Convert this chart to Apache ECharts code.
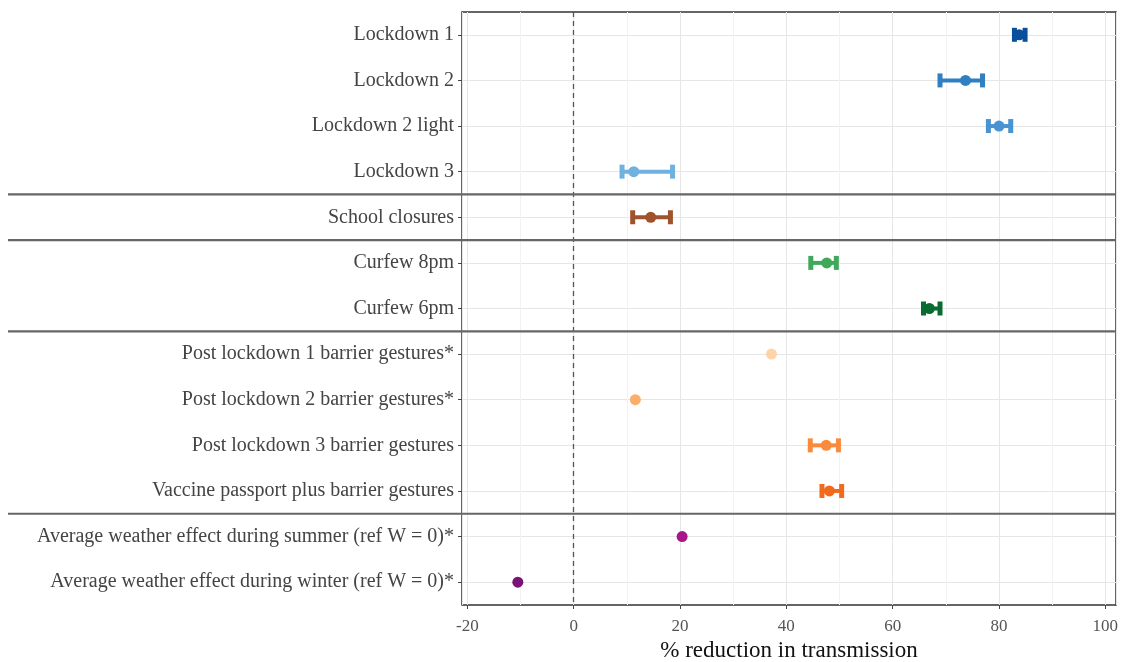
<!DOCTYPE html>
<html>
<head>
<meta charset="utf-8">
<script src="https://cdn.jsdelivr.net/npm/echarts@6/dist/echarts.min.js"></script>
<style>
  html, body { margin: 0; padding: 0; background: #fff; }
  #chart { width: 1123px; height: 662px; }
</style>
</head>
<body>
<div id="chart"></div>
<script>
// categories, top to bottom
const categories = [
  "Lockdown 1",
  "Lockdown 2",
  "Lockdown 2 light",
  "Lockdown 3",
  "School closures",
  "Curfew 8pm",
  "Curfew 6pm",
  "Post lockdown 1 barrier gestures*",
  "Post lockdown 2 barrier gestures*",
  "Post lockdown 3 barrier gestures",
  "Vaccine passport plus barrier gestures",
  "Average weather effect during summer (ref W = 0)*",
  "Average weather effect during winter (ref W = 0)*"
];
// point estimates (% reduction)
const estimates = [83.8, 73.7, 80.0, 11.3, 14.5, 47.6, 66.9, 37.2, 11.6, 47.5, 48.1, 20.4, -10.5];
// 95% interval, null when none is drawn
const lower = [82.9, 68.9, 78.0, 9.1, 11.1, 44.6, 65.8, null, null, 44.5, 46.7, null, null];
const upper = [84.9, 76.9, 82.2, 18.6, 18.2, 49.4, 68.9, null, null, 49.8, 50.4, null, null];
const colors = [
  "#0a4f9c", "#2f7fc1", "#4894d2", "#6fb2df",
  "#a0522d",
  "#3fa85a", "#0a6b32",
  "#fdd3a8", "#fdae6b", "#fb8a3c", "#f26b1d",
  "#a8168a", "#7a1278"
];
// a separator line is drawn below each of these
const groupEnds = ["Lockdown 3", "School closures", "Curfew 6pm", "Vaccine passport plus barrier gestures"];

const serif = "Liberation Serif";
const chart = echarts.init(document.getElementById("chart"));

const barData = [];
categories.forEach((c, i) => {
  if (lower[i] != null) {
    barData.push({ value: [lower[i], upper[i], c], itemStyle: { color: colors[i] } });
  }
});

function renderBar(params, api) {
  const lo = api.coord([api.value(0), api.value(2)]);
  const hi = api.coord([api.value(1), api.value(2)]);
  const color = api.visual("color");
  const h = 7;
  return {
    type: "group",
    children: [
      { type: "line", shape: { x1: lo[0], y1: lo[1], x2: hi[0], y2: hi[1] }, style: { stroke: color, lineWidth: 4 } },
      { type: "line", shape: { x1: lo[0], y1: lo[1] - h, x2: lo[0], y2: lo[1] + h }, style: { stroke: color, lineWidth: 5 } },
      { type: "line", shape: { x1: hi[0], y1: hi[1] - h, x2: hi[0], y2: hi[1] + h }, style: { stroke: color, lineWidth: 5 } }
    ]
  };
}

const option = {
  animation: false,
  grid: {
    left: 462, right: 7, top: 12, bottom: 57,
    outerBoundsMode: "none",
    containLabel: false,
    show: true, borderColor: "#333", borderWidth: 1.5, backgroundColor: "transparent"
  },
  xAxis: {
    type: "value",
    min: -21,
    max: 102,
    splitNumber: 6,
    name: "% reduction in transmission",
    nameLocation: "middle",
    nameGap: 31,
    nameTextStyle: { fontFamily: serif, fontSize: 23, color: "#111" },
    axisLine: { show: false, onZero: false },
    axisTick: { show: true, length: 4, lineStyle: { color: "#444" } },
    axisLabel: { fontFamily: serif, fontSize: 17, color: "#555", margin: 13, showMinLabel: false, showMaxLabel: false },
    splitLine: { show: true, lineStyle: { color: "#e6e6e6", width: 1 } },
    minorTick: { show: false, splitNumber: 2 },
    minorSplitLine: { show: true, lineStyle: { color: "#f2f2f2", width: 1 } }
  },
  yAxis: {
    type: "category",
    data: categories,
    inverse: true,
    boundaryGap: true,
    axisLine: { show: false, onZero: false },
    axisTick: { show: true, alignWithLabel: true, length: 4, lineStyle: { color: "#444" } },
    axisLabel: { fontFamily: serif, fontSize: 20, color: "#444", margin: 8 },
    splitLine: { show: true, alignWithLabel: true, lineStyle: { color: "#e6e6e6", width: 1 } }
  },
  series: [
    {
      type: "custom",
      renderItem: renderBar,
      dimensions: [
        { name: "lo", type: "number" },
        { name: "hi", type: "number" },
        { name: "cat", type: "ordinal" }
      ],
      encode: { x: ["lo", "hi"], y: "cat" },
      data: barData,
      z: 3
    },
    {
      type: "scatter",
      symbol: "circle",
      symbolSize: 11,
      z: 4,
      itemStyle: { opacity: 1 },
      data: estimates.map((v, i) => ({ value: [v, categories[i]], itemStyle: { color: colors[i], opacity: 1 } })),
      markLine: {
        silent: true,
        symbol: "none",
        label: { show: false },
        lineStyle: { color: "#555", type: [5, 4], width: 1.3 },
        data: [{ xAxis: 0 }]
      }
    }
  ]
};
chart.setOption(option);

// group separators across labels and panel
const gridRight = 1123 - 7;
const seps = groupEnds.map(name => {
  const i = categories.indexOf(name);
  const y = (chart.convertToPixel({ yAxisIndex: 0 }, categories[i]) + chart.convertToPixel({ yAxisIndex: 0 }, categories[i + 1])) / 2;
  return {
    type: "line",
    shape: { x1: 8, y1: y, x2: gridRight, y2: y },
    style: { stroke: "#666", lineWidth: 2.2 },
    z: 10
  };
});
chart.setOption({ graphic: seps });
</script>
</body>
</html>
